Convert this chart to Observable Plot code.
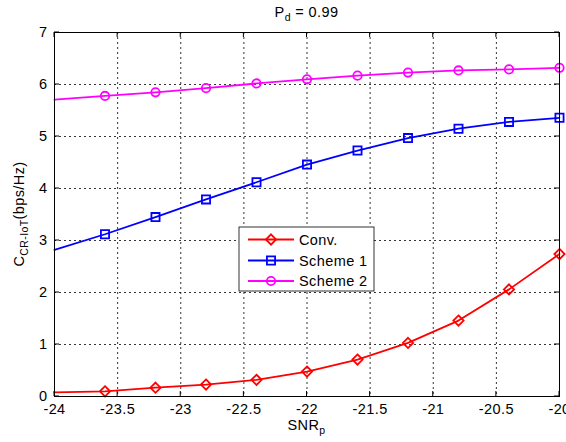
<!DOCTYPE html>
<html><head><meta charset="utf-8">
<script src="https://cdn.jsdelivr.net/npm/d3@7"></script>
<script src="https://cdn.jsdelivr.net/npm/@observablehq/plot@0.6"></script>
<style>
body{margin:0;background:#fff}
#c{position:relative;width:566px;height:442px}
</style>
</head><body><div id="c"></div>
<script>
const snr = [-24, -23.6, -23.2, -22.8, -22.4, -22, -21.6, -21.2, -20.8, -20.4, -20];
const conv    = [0.08, 0.10, 0.17, 0.23, 0.32, 0.48, 0.71, 1.03, 1.46, 2.06, 2.74];
const scheme1 = [2.82, 3.12, 3.45, 3.79, 4.12, 4.46, 4.73, 4.97, 5.15, 5.28, 5.36];
const scheme2 = [5.71, 5.78, 5.85, 5.93, 6.02, 6.10, 6.17, 6.23, 6.27, 6.29, 6.32];
const seriesNames = ["Conv.", "Scheme 1", "Scheme 2"];
const xTicks = [-24, -23.5, -23, -22.5, -22, -21.5, -21, -20.5, -20];
const yTicks = [0, 1, 2, 3, 4, 5, 6, 7];

const colors = ["#ff0000", "#0000ff", "#ff00ff"];
const symbols = ["diamond2", "square", "circle"];
const radii = [4.6, 4.6, 4.2];
const values = [conv, scheme1, scheme2];
const FONT = "'Liberation Sans', Arial, Helvetica, sans-serif";
const FS = 14.5;

const seriesRows = values.map((vals, k) => snr.map((x, i) => ({x, y: vals[i], name: seriesNames[k]})));

const marks = [
  Plot.gridX(xTicks, {stroke: "#000", strokeOpacity: 1, strokeDasharray: "2,3", strokeWidth: 0.8}),
  Plot.gridY(yTicks, {stroke: "#000", strokeOpacity: 1, strokeDasharray: "2,3", strokeWidth: 0.8}),
  Plot.axisX({ticks: xTicks, tickSize: 0, tickPadding: 7, tickFormat: d => String(d), label: null}),
  Plot.axisY({ticks: yTicks, tickSize: 0, tickPadding: 7, tickFormat: d => String(d), label: null}),
];
seriesRows.forEach((rows, k) => {
  marks.push(Plot.line(rows, {x: "x", y: "y", stroke: colors[k], strokeWidth: 1.8}));
  marks.push(Plot.dot(rows.slice(1), {x: "x", y: "y", symbol: symbols[k], stroke: colors[k], fill: "none", strokeWidth: 1.8, r: radii[k]}));
});
marks.push(Plot.frame({stroke: "#000", strokeWidth: 1}));

const chart = Plot.plot({
  width: 566, height: 442,
  marginLeft: 54, marginRight: 7, marginTop: 32, marginBottom: 46,
  style: {fontFamily: FONT, fontSize: FS + "px", color: "#000", background: "#fff", letterSpacing: "0.4px"},
  x: {domain: [-24, -20]},
  y: {domain: [0, 7]},
  marks
});
document.getElementById("c").appendChild(chart);

const svg = d3.select(chart);
const xs = chart.scale("x"), ys = chart.scale("y");
const x0 = xs.apply(-24), x1 = xs.apply(-20), y0 = ys.apply(0), y1 = ys.apply(7);

// inward ticks on all four sides
const tg = svg.append("g").attr("stroke", "#000").attr("stroke-width", 1);
xTicks.forEach(t => {
  const px = xs.apply(t);
  tg.append("line").attr("x1", px).attr("x2", px).attr("y1", y0).attr("y2", y0 - 5);
  tg.append("line").attr("x1", px).attr("x2", px).attr("y1", y1).attr("y2", y1 + 5);
});
yTicks.forEach(t => {
  const py = ys.apply(t);
  tg.append("line").attr("x1", x0).attr("x2", x0 + 5).attr("y1", py).attr("y2", py);
  tg.append("line").attr("x1", x1).attr("x2", x1 - 5).attr("y1", py).attr("y2", py);
});

const tx = svg.append("g").attr("font-family", FONT).attr("font-size", FS).attr("fill", "#000").attr("letter-spacing", "0.4px");
const cx = (x0 + x1) / 2;

// title
const t = tx.append("text").attr("x", cx).attr("y", 17).attr("text-anchor", "middle");
t.append("tspan").text("P");
t.append("tspan").attr("dy", 4).attr("font-size", 10.5).text("d");
t.append("tspan").attr("dy", -4).text(" = 0.99");

// x label
const xl = tx.append("text").attr("x", cx).attr("y", 430).attr("text-anchor", "middle");
xl.append("tspan").text("SNR");
xl.append("tspan").attr("dy", 4).attr("font-size", 10.5).text("p");

// y label
const yl = tx.append("text").attr("transform", `translate(24,${(y0 + y1) / 2}) rotate(-90)`).attr("text-anchor", "middle");
yl.append("tspan").text("C");
yl.append("tspan").attr("dy", 4).attr("font-size", 10.5).text("CR-IoT");
yl.append("tspan").attr("dy", -4).text("(bps/Hz)");

// legend
const lg = svg.append("g");
lg.append("rect").attr("x", 239).attr("y", 227).attr("width", 135).attr("height", 64)
  .attr("fill", "#fff").attr("stroke", "#000").attr("stroke-width", 0.8);
const ly = [239.5, 260.5, 281];
const symTypes = [d3.symbolDiamond2, d3.symbolSquare, d3.symbolCircle];
seriesNames.forEach((n, k) => {
  lg.append("line").attr("x1", 248).attr("x2", 294).attr("y1", ly[k]).attr("y2", ly[k])
    .attr("stroke", colors[k]).attr("stroke-width", 1.8);
  const sym = d3.symbol().type(symTypes[k]).size(Math.PI * radii[k] * radii[k]);
  lg.append("path").attr("d", sym()).attr("transform", `translate(271,${ly[k]})`)
    .attr("fill", "none").attr("stroke", colors[k]).attr("stroke-width", 1.8);
  lg.append("text").attr("x", 299).attr("y", ly[k]).attr("dy", "0.36em").attr("text-anchor", "start")
    .attr("font-family", FONT).attr("font-size", FS).attr("letter-spacing", "0.4px").text(n);
});
</script>
</body></html>
